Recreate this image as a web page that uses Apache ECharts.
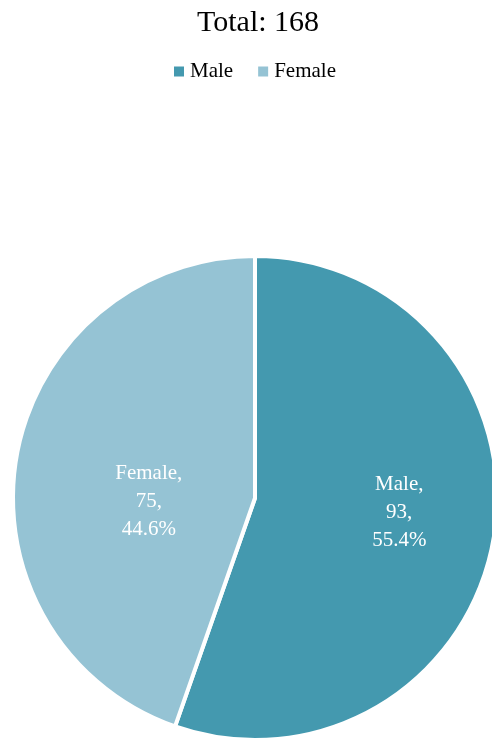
<!DOCTYPE html>
<html>
<head>
<meta charset="utf-8">
<script src="https://cdn.jsdelivr.net/npm/echarts@6/dist/echarts.min.js"></script>
<style>
  html, body { margin: 0; padding: 0; background: #fff; }
  #chart { width: 492px; height: 740px; }
</style>
</head>
<body>
<div id="chart"></div>
<script>
const categories = ['Male', 'Female'];
const counts = [93, 75];
const colors = ['#4499AF', '#95C3D4'];
// per-slice label nudges (label sits near the horizontal middle in the reference)
const labelOffsets = [[22, -6], [16, 24]];

const total = counts.reduce((a, b) => a + b, 0);
const serif = '"Liberation Serif", "Times New Roman", serif';

const chart = echarts.init(document.getElementById('chart'));
chart.setOption({
    animation: false,
    title: {
        text: 'Total: ' + total,
        left: 192,
        top: 3,
        textStyle: { fontFamily: serif, fontSize: 30, fontWeight: 'normal', color: '#000' }
    },
    legend: {
        data: categories,
        top: 56,
        left: 167,
        icon: 'rect',
        itemWidth: 12,
        itemHeight: 12,
        itemGap: 23,
        textStyle: { fontFamily: serif, fontSize: 21, color: '#000' }
    },
    series: [{
        type: 'pie',
        center: [255, 498],
        radius: 242,
        startAngle: 90,
        clockwise: true,
        itemStyle: { borderColor: '#fff', borderWidth: 4 },
        label: {
            show: true,
            position: 'inside',
            fontFamily: serif,
            fontSize: 21,
            lineHeight: 28,
            color: '#fff',
            formatter: p => p.name + ',\n' + p.value + ',\n' + p.percent.toFixed(1) + '%'
        },
        labelLine: { show: false },
        data: categories.map((c, i) => ({
            name: c,
            value: counts[i],
            itemStyle: { color: colors[i] },
            label: { offset: labelOffsets[i] }
        }))
    }]
});
</script>
</body>
</html>
